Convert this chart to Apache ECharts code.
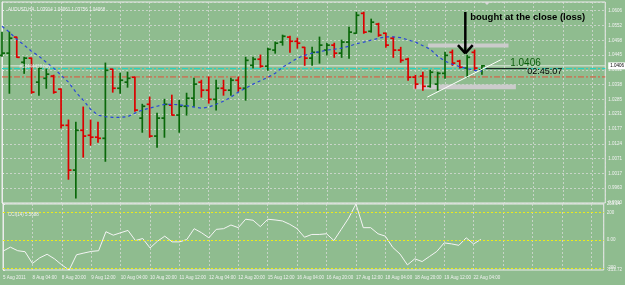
<!DOCTYPE html>
<html>
<head>
<meta charset="utf-8">
<script src="https://cdn.jsdelivr.net/npm/echarts@6/dist/echarts.min.js"></script>
<style>
  html, body { margin: 0; padding: 0; background: #8fbc8f; }
  #chart { width: 625px; height: 285px; }
</style>
</head>
<body>
<div id="chart"></div>
<script>
// AUDUSD H4 bars, 5 Aug 12:00 .. 22 Aug 08:00
const timeLabels = ['5 Aug 2011', '8 Aug 04:00', '8 Aug 20:00', '9 Aug 12:00', '10 Aug 04:00', '10 Aug 20:00',
  '11 Aug 12:00', '12 Aug 04:00', '12 Aug 20:00', '15 Aug 12:00', '16 Aug 04:00', '16 Aug 20:00',
  '17 Aug 12:00', '18 Aug 04:00', '18 Aug 20:00', '19 Aug 12:00', '22 Aug 04:00'];

const openP = [1.0444, 1.0452, 1.0510, 1.0419, 1.0434, 1.0347, 1.0361, 1.0369, 1.0322, 1.0191,
  1.0029, 1.0173, 1.0155, 1.0148, 1.0144, 1.0394, 1.0325, 1.0347, 1.0365, 1.0217,
  1.0267, 1.0152, 1.0217, 1.0264, 1.0228, 1.0260, 1.0289, 1.0347, 1.0318, 1.0285,
  1.0325, 1.0318, 1.0354, 1.0325, 1.0408, 1.0430, 1.0405, 1.0463, 1.0492, 1.0510,
  1.0495, 1.0473, 1.0434, 1.0455, 1.0463, 1.0481, 1.0452, 1.0492, 1.0524, 1.0596,
  1.0531, 1.0557, 1.0524, 1.0506, 1.0463, 1.0430, 1.0365, 1.0369, 1.0332, 1.0340,
  1.0379, 1.0455, 1.0423, 1.0398, 1.0455, 1.0391];
const highP = [1.0528, 1.0528, 1.0510, 1.0437, 1.0434, 1.0401, 1.0394, 1.0372, 1.0322, 1.0210,
  1.0202, 1.0257, 1.0210, 1.0202, 1.0416, 1.0394, 1.0379, 1.0383, 1.0365, 1.0267,
  1.0293, 1.0235, 1.0285, 1.0300, 1.0282, 1.0307, 1.0361, 1.0354, 1.0365, 1.0354,
  1.0354, 1.0361, 1.0365, 1.0437, 1.0437, 1.0445, 1.0470, 1.0492, 1.0517, 1.0513,
  1.0506, 1.0473, 1.0473, 1.0510, 1.0488, 1.0488, 1.0499, 1.0546, 1.0600, 1.0600,
  1.0575, 1.0560, 1.0524, 1.0510, 1.0473, 1.0434, 1.0372, 1.0383, 1.0390, 1.0383,
  1.0455, 1.0463, 1.0426, 1.0444, 1.0463, 1.0407];
const lowP = [1.0441, 1.0307, 1.0437, 1.0379, 1.0307, 1.0300, 1.0325, 1.0307, 1.0181, 0.9996,
  0.9928, 1.0076, 1.0119, 1.0130, 1.0061, 1.0311, 1.0307, 1.0329, 1.0242, 1.0166,
  1.0148, 1.0112, 1.0148, 1.0228, 1.0166, 1.0228, 1.0260, 1.0293, 1.0271, 1.0246,
  1.0300, 1.0300, 1.0314, 1.0282, 1.0398, 1.0401, 1.0390, 1.0452, 1.0481, 1.0455,
  1.0470, 1.0408, 1.0408, 1.0416, 1.0445, 1.0437, 1.0437, 1.0434, 1.0524, 1.0524,
  1.0528, 1.0513, 1.0473, 1.0437, 1.0419, 1.0354, 1.0325, 1.0318, 1.0329, 1.0318,
  1.0361, 1.0408, 1.0398, 1.0365, 1.0390, 1.0376];
const closeP = [1.0452, 1.0506, 1.0437, 1.0434, 1.0311, 1.0398, 1.0376, 1.0311, 1.0191, 1.0029,
  1.0173, 1.0152, 1.0148, 1.0144, 1.0390, 1.0325, 1.0354, 1.0361, 1.0246, 1.0260,
  1.0152, 1.0217, 1.0267, 1.0228, 1.0260, 1.0289, 1.0340, 1.0318, 1.0285, 1.0325,
  1.0318, 1.0354, 1.0325, 1.0426, 1.0430, 1.0405, 1.0466, 1.0488, 1.0513, 1.0495,
  1.0488, 1.0434, 1.0455, 1.0481, 1.0481, 1.0452, 1.0492, 1.0528, 1.0589, 1.0528,
  1.0564, 1.0517, 1.0481, 1.0463, 1.0426, 1.0365, 1.0340, 1.0332, 1.0383, 1.0379,
  1.0444, 1.0416, 1.0401, 1.0437, 1.0398, 1.0406];
// moving average (blue dashed)
const maP = [1.0549, 1.0528, 1.0502, 1.0481, 1.0459, 1.0441, 1.0419, 1.0398, 1.0372, 1.0347,
  1.0311, 1.0282, 1.0249, 1.0228, 1.0222, 1.0220, 1.0220, 1.0222, 1.0235, 1.0246,
  1.0253, 1.0260, 1.0267, 1.0267, 1.0265, 1.0262, 1.0257, 1.0253, 1.0257, 1.0267,
  1.0278, 1.0293, 1.0311, 1.0325, 1.0340, 1.0352, 1.0365, 1.0379, 1.0401, 1.0417,
  1.0434, 1.0444, 1.0452, 1.0457, 1.0463, 1.0466, 1.0470, 1.0477, 1.0486, 1.0492,
  1.0499, 1.0506, 1.0511, 1.0511, 1.0508, 1.0500, 1.0492, 1.0479, 1.0466, 1.0441,
  1.0423, 1.0412, 1.0403, 1.0396, 1.0390, 1.0387];
// CCI(14)
const cciVals = [-79.1, -50.0, -75.5, -82.7, -166.4, -126.4, -100.9, -133.7, -177.3, -213.72,
  -104.6, -92.2, -80.6, -75.5, 60.6, 35.9, 53.3, 70.0, -2.7, 11.8,
  -55.8, -7.8, 28.6, -12.2, -12.2, 4.6, 82.4, 53.3, 16.9, 77.3,
  82.4, 108.6, 89.7, 150.1, 142.8, 97.0, 150.1, 145.0, 137.7, 113.7,
  82.4, 21.3, 40.9, 40.9, 46.0, -2.7, 77.3, 157.4, 259.24, 89.7,
  89.7, 46.0, 28.6, -51.4, -99.5, -177.3, -133.7, -153.3, -116.9, -80.6,
  -19.4, -26.7, -36.9, 16.9, -26.7, 5.57];
const cciLevels = [200, 0, -200];
const cciLevelLabels = ['200', '0.00', '-200'];

// order / price lines
const bidPrice = 1.0406;
const orderPrice = 1.0396;
const stopPrice = 1.0366;

// drawn objects on the chart (bar index, price)
const boxes = [[57.7, 1.0487, 68.6, 1.0472], [55.7, 1.0339, 69.6, 1.0321]];
const trendLine = [57.6, 1.0293, 67.7, 1.0430];
const arrowX = 62.75;
const arrowTop = 1.0601;
const arrowTip = 1.0451;
const arrowWing = 1.0481;
const notes = ['bought at the close (loss)', '1.0406', '02:45:07', '#18444418 buy'];
const noteX = [71.2, 70.9, 73.5, 2.3];
const noteY = [1.0582, 1.0417, 1.0384, 1.0402];

const font = "'Liberation Sans', Arial, sans-serif";
const white = '#f2f2f2';
const upColor = '#0a680a';
const downColor = '#dc0000';
const dots = { color: 'rgba(222,222,222,0.7)', type: [2, 2], width: 1 };
const xMax = 81.7;

const ohlcData = openP.map((o, i) => [i, o, highP[i], lowP[i], closeP[i]]);
const maData = maP.map((v, i) => [i, v]);
const cciData = cciVals.map((v, i) => [i, v]);

function renderBar(params, api) {
  const i = api.value(0);
  const o = api.coord([i, api.value(1)]);
  const h = api.coord([i, api.value(2)]);
  const l = api.coord([i, api.value(3)]);
  const c = api.coord([i, api.value(4)]);
  const color = api.value(4) >= api.value(1) ? upColor : downColor;
  const x = h[0];
  const style = { stroke: color, lineWidth: 1.7 };
  return {
    type: 'group',
    children: [
      { type: 'line', shape: { x1: x, y1: h[1] - 0.5, x2: x, y2: l[1] + 0.5 }, style },
      { type: 'line', shape: { x1: x - 3, y1: o[1], x2: x, y2: o[1] }, style },
      { type: 'line', shape: { x1: x, y1: c[1], x2: x + 3, y2: c[1] }, style }
    ]
  };
}

// straight line through two (index, price) points, as a plain line series
function segment(x1, y1, x2, y2, color, width, dash, z) {
  return {
    type: 'line', xAxisIndex: 0, yAxisIndex: 0, data: [[x1, y1], [x2, y2]],
    showSymbol: false, silent: true, z: z || 6,
    lineStyle: { color: color, width: width, type: dash || 'solid' }
  };
}

const chart = echarts.init(document.getElementById('chart'));

const bidLine = segment(0, bidPrice, xMax, bidPrice, '#e4ebe4', 1, 'solid', 2);
bidLine.endLabel = {
  show: true, formatter: bidPrice.toFixed(4), distance: 3, offset: [0, 0],
  backgroundColor: '#ffffff', color: '#000', fontSize: 4.5, fontFamily: font, padding: [1, 2]
};

const option = {
  animation: false,
  backgroundColor: '#8fbc8f',
  textStyle: { fontFamily: font },
  title: [
    { text: 'AUDUSD,H4  1.03914 1.04061 1.03756 1.04068', left: 3, top: 2,
      textStyle: { fontSize: 4.5, color: white, fontWeight: 'normal', fontFamily: font } },
    { text: 'CCI(14) 5.5688', left: 3, top: 207,
      textStyle: { fontSize: 4.5, color: white, fontWeight: 'normal', fontFamily: font } }
  ],
  grid: [
    { left: 2, right: 16, top: 2, height: 201, show: true, borderColor: '#ececec', borderWidth: 1 },
    { left: 2, right: 16, top: 204, height: 66, show: true, borderColor: '#ececec', borderWidth: 1 }
  ],
  xAxis: [
    { type: 'value', gridIndex: 0, min: 0, max: xMax, interval: 4,
      axisLine: { show: false }, axisTick: { show: false }, axisLabel: { show: false },
      splitLine: { show: true, lineStyle: dots } },
    { type: 'value', gridIndex: 1, min: 0, max: xMax, interval: 4,
      axisLine: { show: false }, axisTick: { show: false },
      axisLabel: {
        show: true, color: white, fontSize: 4.5, fontFamily: font, margin: 5, align: 'left',
        showMaxLabel: false,
        formatter: v => {
          const k = Math.round(v);
          return (k % 4 === 0 && k / 4 < timeLabels.length) ? timeLabels[k / 4] : '';
        }
      },
      splitLine: { show: true, lineStyle: dots } }
  ],
  yAxis: [
    { type: 'value', gridIndex: 0, position: 'right', min: 0.9910, max: 1.0637, interval: 0.00535,
      axisLine: { show: true, lineStyle: { color: '#ececec' } },
      axisTick: { show: true, length: 2, lineStyle: { color: '#ececec' } },
      axisLabel: { color: white, fontSize: 4.5, fontFamily: font, margin: 3, showMaxLabel: false,
        formatter: v => v.toFixed(4) },
      splitLine: { show: true, lineStyle: dots } },
    { type: 'value', gridIndex: 1, position: 'right', min: -213.72, max: 259.24, interval: 472.96,
      axisLine: { show: true, lineStyle: { color: '#ececec' } },
      axisTick: { show: true, length: 2, lineStyle: { color: '#ececec' } },
      axisLabel: { color: white, fontSize: 4.5, fontFamily: font, margin: 3,
        formatter: v => v.toFixed(2) },
      splitLine: { show: false } }
  ],
  series: [
    bidLine,
    segment(0, orderPrice, xMax, orderPrice, '#19d6c8', 1, [6, 2, 2, 2], 2),
    segment(0, stopPrice, xMax, stopPrice, '#e6503a', 1, [6, 2, 2, 2], 2),
    {
      type: 'custom', name: 'AUDUSD', xAxisIndex: 0, yAxisIndex: 0,
      renderItem: renderBar, data: ohlcData, encode: { x: 0, y: [1, 2, 3, 4] }, z: 3
    },
    {
      type: 'line', name: 'MA', xAxisIndex: 0, yAxisIndex: 0, data: maData,
      showSymbol: false, silent: true, z: 4,
      lineStyle: { color: '#2b47d8', width: 1.2, type: [3, 3] },
      markArea: {
        silent: true,
        itemStyle: { color: '#cbcbcb', opacity: 1 },
        data: boxes.map(b => [{ coord: [b[0], b[1]] }, { coord: [b[2], b[3]] }])
      },
      markPoint: {
        silent: true, symbol: 'rect', symbolSize: 1,
        itemStyle: { color: 'rgba(0,0,0,0)' },
        data: [
          { coord: [noteX[0], noteY[0]],
            label: { show: true, position: 'inside', formatter: notes[0], color: '#000',
              fontSize: 9.5, fontWeight: 'bold', fontFamily: font } },
          { coord: [noteX[1], noteY[1]],
            label: { show: true, position: 'inside', formatter: notes[1], color: '#0b5e0b',
              fontSize: 10, fontFamily: font } },
          { coord: [noteX[2], noteY[2]],
            label: { show: true, position: 'inside', formatter: notes[2], color: '#000',
              fontSize: 9, fontFamily: font } },
          { coord: [noteX[3], noteY[3]],
            label: { show: true, position: 'right', distance: 0, formatter: notes[3], color: '#e6e6e6',
              fontSize: 4.5, fontFamily: font } }
        ]
      }
    },
    segment(trendLine[0], trendLine[1], trendLine[2], trendLine[3], '#ffffff', 1),
    segment(65.5, orderPrice, 71.1, orderPrice, '#111111', 1),
    segment(arrowX, arrowTop, arrowX, arrowTip, '#000000', 2.5),
    segment(arrowX - 1, arrowWing, arrowX, arrowTip, '#000000', 2.5),
    segment(arrowX + 1, arrowWing, arrowX, arrowTip, '#000000', 2.5),
    {
      type: 'line', name: 'CCI(14)', xAxisIndex: 1, yAxisIndex: 1, data: cciData,
      showSymbol: false, silent: true,
      lineStyle: { color: '#f4f4f4', width: 1 },
      markLine: {
        silent: true, symbol: ['none', 'none'],
        lineStyle: { color: '#ecec1a', width: 1, type: [2, 2] },
        label: { show: true, position: 'end', distance: 3, color: white, fontSize: 4.5, fontFamily: font },
        data: cciLevels.map((v, k) => ({ yAxis: v, label: { formatter: cciLevelLabels[k] } }))
      }
    }
  ],
  graphic: [
    { type: 'polygon', shape: { points: [[484, 2], [490, 2], [487, 5]] }, style: { fill: '#d8d8d8' } }
  ]
};

chart.setOption(option);
</script>
</body>
</html>
